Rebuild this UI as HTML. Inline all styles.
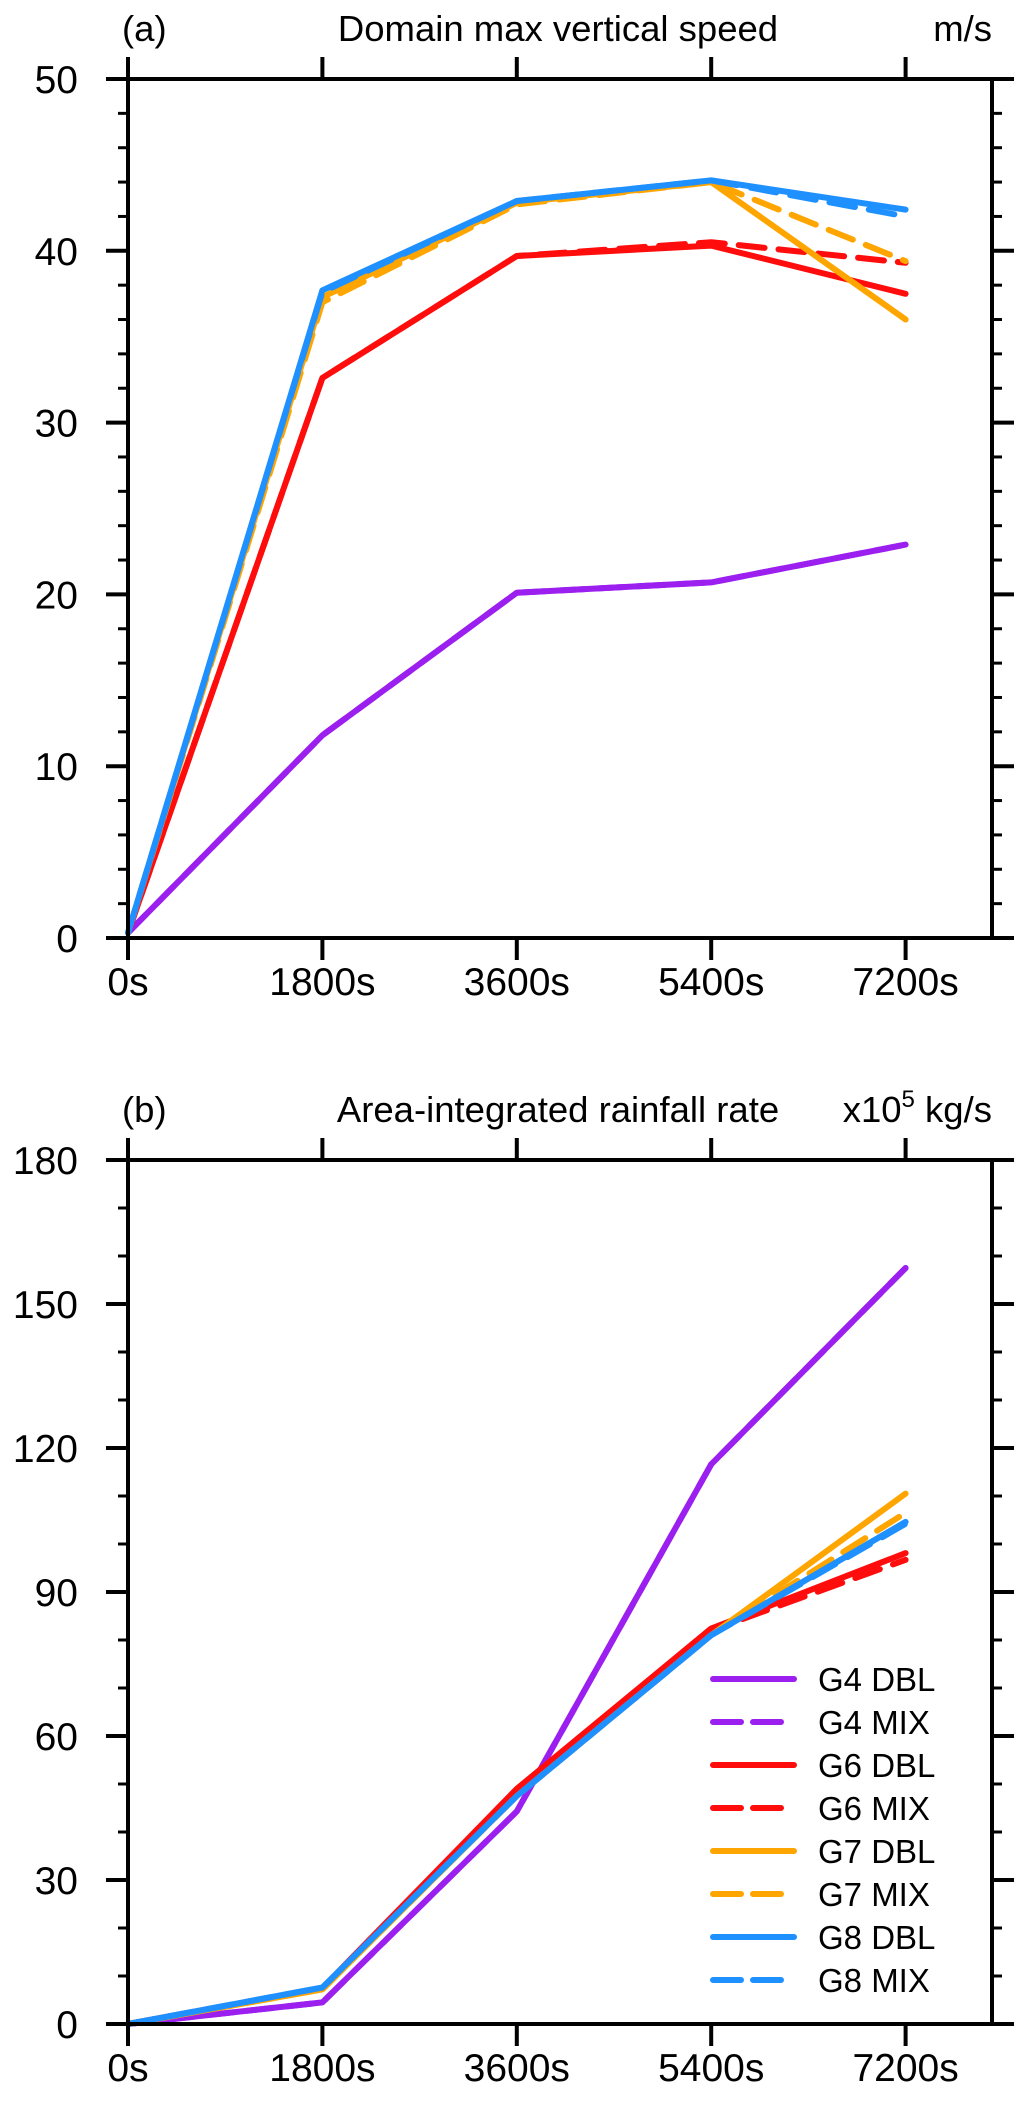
<!DOCTYPE html>
<html><head><meta charset="utf-8"><style>
html,body{margin:0;padding:0;background:#fff;}
svg{display:block;font-family:"Liberation Sans",sans-serif;}
</style></head><body>
<svg id="chart" width="1033" height="2122" viewBox="0 0 1033 2122" xmlns="http://www.w3.org/2000/svg">
<rect width="1033" height="2122" fill="#fff"/>
</svg>
<script>
const times = [0, 1800, 3600, 5400, 7200];
const xTickLabels = ["0s","1800s","3600s","5400s","7200s"];
const seriesNames = ["G4 DBL","G4 MIX","G6 DBL","G6 MIX","G7 DBL","G7 MIX","G8 DBL","G8 MIX"];
const seriesColors = ["#9b1fef","#9b1fef","#ff0d0d","#ff0d0d","#ffa500","#ffa500","#1e90ff","#1e90ff"];
const seriesDashed = [false,true,false,true,false,true,false,true];
const speedG4DBL = [0.3, 11.8, 20.1, 20.7, 22.9];
const speedG4MIX = [0.3, 11.8, 20.1, 20.7, 22.9];
const speedG6DBL = [0.3, 32.6, 39.7, 40.3, 37.5];
const speedG6MIX = [0.3, 32.6, 39.7, 40.5, 39.3];
const speedG7DBL = [0.3, 37.3, 42.8, 44.0, 36.0];
const speedG7MIX = [0.3, 37.0, 42.7, 44.0, 39.4];
const speedG8DBL = [0.3, 37.7, 42.9, 44.1, 42.4];
const speedG8MIX = [0.3, 37.6, 42.9, 44.1, 42.0];
const rainG4DBL = [0, 4.5, 44.3, 116.6, 157.5];
const rainG4MIX = [0, 4.5, 44.3, 116.6, 157.5];
const rainG6DBL = [0, 7.5, 49.0, 82.4, 98.1];
const rainG6MIX = [0, 7.5, 48.5, 82.0, 96.7];
const rainG7DBL = [0, 7.2, 47.5, 81.0, 110.5];
const rainG7MIX = [0, 7.2, 47.5, 81.0, 106.5];
const rainG8DBL = [0, 7.6, 47.5, 81.0, 104.6];
const rainG8MIX = [0, 7.6, 47.5, 81.0, 104.2];
const speedYTicks = [0,10,20,30,40,50];
const rainYTicks = [0,30,60,90,120,150,180];

const NS = "http://www.w3.org/2000/svg";
const svg = document.getElementById('chart');
function mk(tag, attrs, parent){ const e=document.createElementNS(NS,tag); for(const k in attrs) e.setAttribute(k,attrs[k]); (parent||svg).appendChild(e); return e; }

const L=128, R=992, XMAX=8000;
function xs(t){ return L + t/XMAX*(R-L); }

function panel(cfg){
  const g = mk('g',{});
  
  
  const top=cfg.top, bot=cfg.bot, ymax=cfg.ymax;
  const ys = v => bot - v/ymax*(bot-top);
  cfg.data.forEach((arr,i)=>{
    const pts = arr.map((v,j)=>xs(times[j]).toFixed(1)+','+ys(v).toFixed(1)).join(' ');
    const p = mk('polyline',{points:pts,fill:'none',stroke:seriesColors[i],'stroke-width':6,'stroke-linecap':'round','stroke-linejoin':'round'},g);
    if(seriesDashed[i]) p.setAttribute('stroke-dasharray','26 14');
    
    
  });
  const fr = mk('rect',{x:L,y:top,width:R-L,height:bot-top,fill:'none',stroke:'#000','stroke-width':4},g);
  
  
  const step = cfg.minor;
  for(let v=0; v<=ymax+1e-9; v+=step){
    const major = cfg.ticks.some(t=>Math.abs(t-v)<1e-6);
    const len = major?22:10;
    mk('line',{x1:L-len,x2:L,y1:ys(v),y2:ys(v),stroke:'#000','stroke-width':major?4:3},g);
    mk('line',{x1:R,x2:R+len,y1:ys(v),y2:ys(v),stroke:'#000','stroke-width':major?4:3},g);
  }
  cfg.ticks.forEach(v=>{
    const t = mk('text',{x:78,y:ys(v)+14,'font-size':39,'text-anchor':'end',fill:'#000'},g);
    t.textContent = v;
    
    
  });
  times.forEach((tm,j)=>{
    mk('line',{x1:xs(tm),x2:xs(tm),y1:bot,y2:bot+22,stroke:'#000','stroke-width':4},g);
    mk('line',{x1:xs(tm),x2:xs(tm),y1:top-22,y2:top,stroke:'#000','stroke-width':4},g);
    const t = mk('text',{x:xs(tm),y:bot+57,'font-size':39,'text-anchor':'middle',fill:'#000'},g);
    t.textContent = xTickLabels[j];
    
    
  });
  const lab = mk('text',{x:122,y:top-38,'font-size':36.5,fill:'#000'},g);
  lab.textContent = cfg.label;
  
  
  const ti = mk('text',{x:558,y:top-38,'font-size':36.5,'text-anchor':'middle',fill:'#000'},g);
  ti.textContent = cfg.title;
  
  
  const un = mk('text',{x:992,y:top-38,'font-size':36.5,'text-anchor':'end',fill:'#000'},g);
  un.innerHTML = cfg.units;
  
  
  return ys;
}

panel({name:'panel-a-vertical-speed', top:79, bot:938, ymax:50, ticks:speedYTicks, minor:2,
  label:'(a)', title:'Domain max vertical speed', units:'m/s',
  data:[speedG4DBL,speedG4MIX,speedG6DBL,speedG6MIX,speedG7DBL,speedG7MIX,speedG8DBL,speedG8MIX]});
panel({name:'panel-b-rainfall-rate', top:1160, bot:2024, ymax:180, ticks:rainYTicks, minor:10,
  label:'(b)', title:'Area-integrated rainfall rate', units:'x10<tspan dy="-15" font-size="24">5</tspan><tspan dy="15"> kg/s</tspan>',
  data:[rainG4DBL,rainG4MIX,rainG6DBL,rainG6MIX,rainG7DBL,rainG7MIX,rainG8DBL,rainG8MIX]});

const lg = mk('g',{});


seriesNames.forEach((n,i)=>{
  const y = 1679 + i*43;
  const e = mk('g',{},lg);
  
  
  const ln = mk('line',{x1:713,x2:seriesDashed[i]?783:794,y1:y,y2:y,stroke:seriesColors[i],'stroke-width':6,'stroke-linecap':'round'},e);
  if(seriesDashed[i]) ln.setAttribute('stroke-dasharray','28 12');
  const t = mk('text',{x:818,y:y+12,'font-size':33,fill:'#000'},e);
  t.textContent = n;
});
</script>
</body></html>
